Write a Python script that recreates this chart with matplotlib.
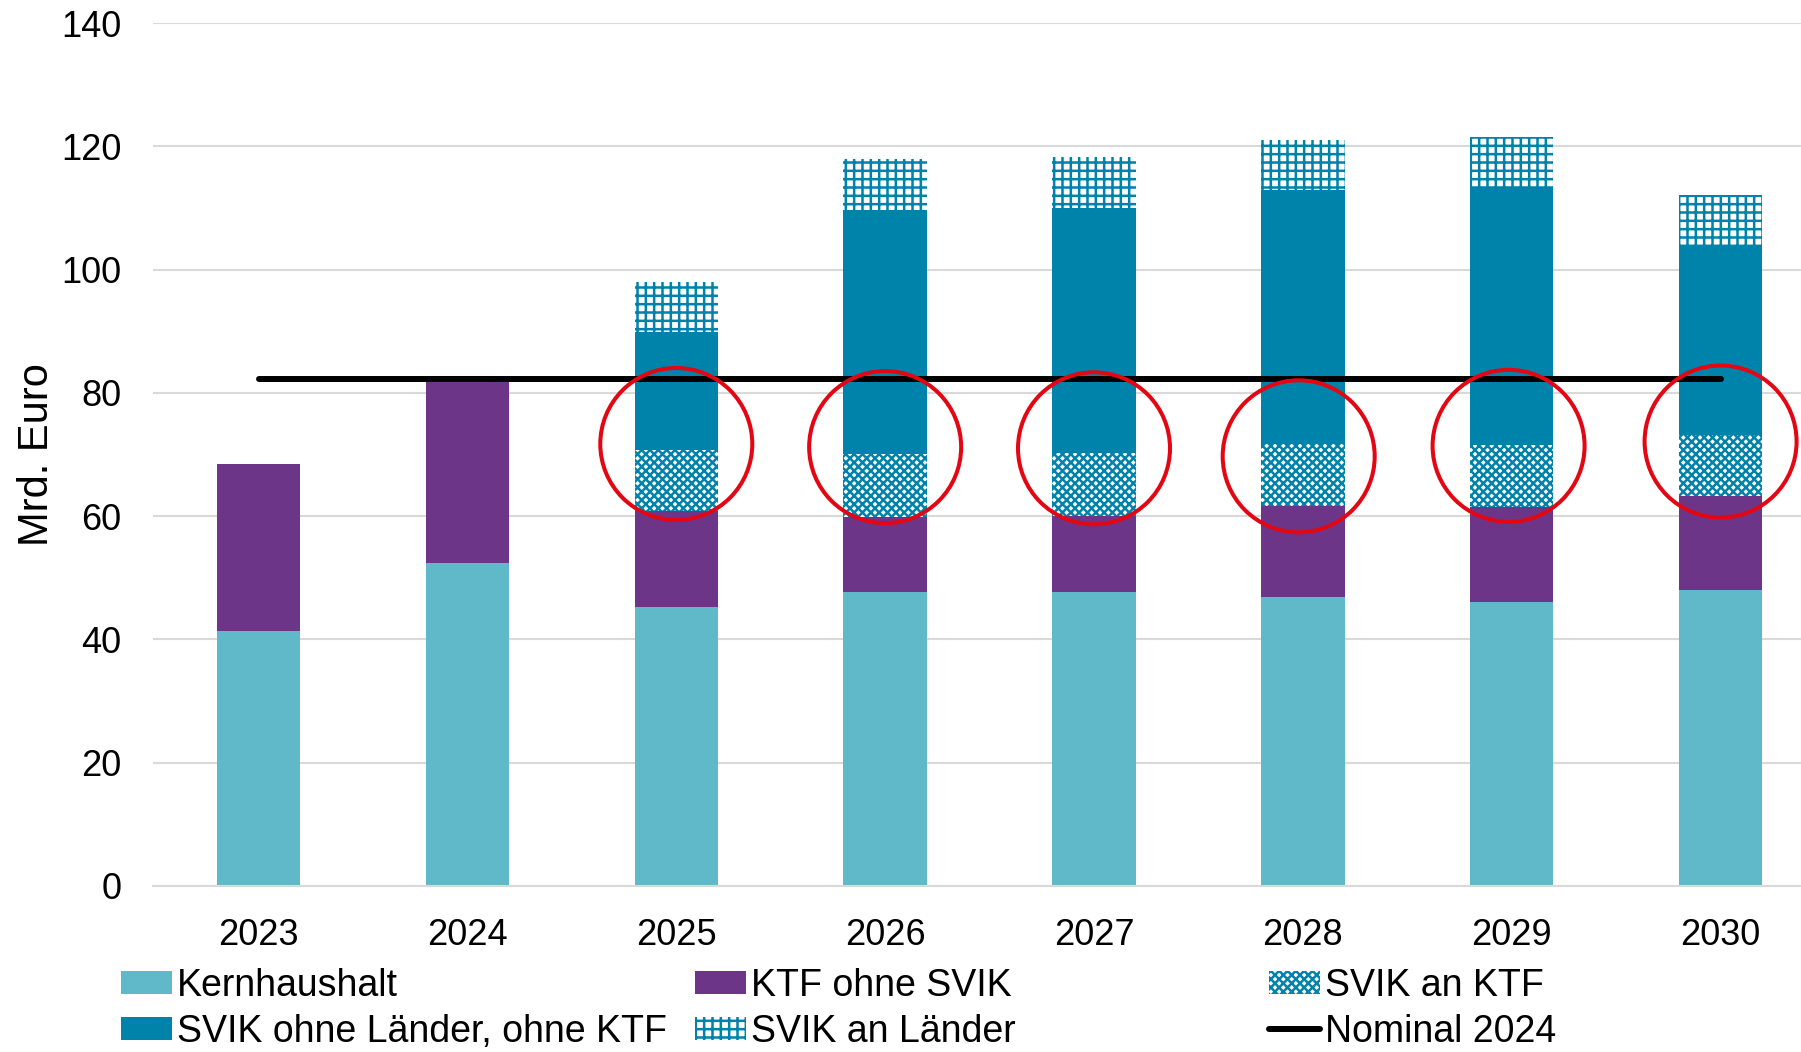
import matplotlib
matplotlib.use("Agg")
import matplotlib.pyplot as plt
from matplotlib.patches import Ellipse, Patch
from matplotlib.lines import Line2D
import numpy as np

plt.rcParams['font.family'] = ['Liberation Sans', 'DejaVu Sans']
plt.rcParams['hatch.linewidth'] = 1.8

years = ['2023', '2024', '2025', '2026', '2027', '2028', '2029', '2030']
kernhaushalt = [41.3, 52.4, 45.2, 47.6, 47.6, 46.8, 46.1, 48.0]
ktf_ohne_svik = [27.1, 29.6, 15.6, 12.3, 12.4, 14.9, 15.4, 15.2]
svik_an_ktf = [0, 0, 10.0, 10.2, 10.3, 10.0, 10.1, 10.0]
svik_ohne_laender = [0, 0, 19.0, 39.6, 39.7, 41.3, 41.6, 30.7]
svik_an_laender = [0, 0, 8.2, 8.3, 8.2, 8.0, 8.4, 8.2]
nominal_2024 = 82.3

# red circles around "SVIK an KTF" (x position, y centre)
circle_x = [2, 3, 4, 4.98, 5.985, 7]
circle_y = [71.7, 71.2, 71.0, 69.7, 71.4, 72.1]

c_kern = '#5fb9c8'
c_ktf = '#6d3588'
c_svik = '#0083ab'

fig = plt.figure(figsize=(18.01, 10.52), dpi=100)
ax = fig.add_axes([0.085, 0.158, 0.915, 0.82])

x = np.arange(len(years))
w = 0.4
bottom = np.zeros(len(years))
ax.bar(x, kernhaushalt, w, bottom=bottom, color=c_kern, lw=0, zorder=2)
bottom += kernhaushalt
ax.bar(x, ktf_ohne_svik, w, bottom=bottom, color=c_ktf, lw=0, zorder=2)
bottom += ktf_ohne_svik
ax.bar(x, svik_an_ktf, w, bottom=bottom, color='white', edgecolor=c_svik,
       hatch='xxxx', lw=0, zorder=2)
bottom += svik_an_ktf
ax.bar(x, svik_ohne_laender, w, bottom=bottom, color=c_svik, lw=0, zorder=2)
bottom += svik_ohne_laender
ax.bar(x, svik_an_laender, w, bottom=bottom, color='white', edgecolor=c_svik,
       hatch='++', lw=0, zorder=2)

ax.plot([x[0], x[-1]], [nominal_2024, nominal_2024], color='black', lw=4.3,
        solid_capstyle='round', zorder=3)

ax.set_xlim(-0.505, 7.385)
ax.set_ylim(0, 140)
ax.set_yticks(range(0, 141, 20))
ax.set_xticks(x)
ax.set_xticklabels(years)
ax.tick_params(axis='both', length=0, labelsize=26)
ax.tick_params(axis='y', pad=23)
ax.tick_params(axis='x', pad=23)
ax.grid(axis='y', color='#d9d9d9', lw=1.5, zorder=0)
for s in ['top', 'right', 'left']:
    ax.spines[s].set_visible(False)
ax.spines['bottom'].set_color('#d9d9d9')
ax.spines['bottom'].set_linewidth(1.5)
ax.set_ylabel('Mrd. Euro', fontsize=30, labelpad=3)

# circle in pixel units -> data units
fig.canvas.draw()
bb = ax.get_window_extent()
px_x = bb.width / (7.385 + 0.505)
px_y = bb.height / 140
r = 76
for cx, cy in zip(circle_x, circle_y):
    ax.add_patch(Ellipse((cx, cy), 2 * r / px_x, 2 * r / px_y, fill=False,
                         edgecolor='#e30613', lw=2.9, zorder=4))

h_kern = Patch(facecolor=c_kern, lw=0)
h_ktf = Patch(facecolor=c_ktf, lw=0)
h_sktf = Patch(facecolor='white', edgecolor=c_svik, hatch='xxxx', lw=0)
h_sohne = Patch(facecolor=c_svik, lw=0)
h_sland = Patch(facecolor='white', edgecolor=c_svik, hatch='++', lw=0)
h_nom = Line2D([], [], color='black', lw=4.3, solid_capstyle='round')

cols = [([h_kern, h_sohne], ['Kernhaushalt', 'SVIK ohne Länder, ohne KTF'], 0.0672),
        ([h_ktf, h_sland], ['KTF ohne SVIK', 'SVIK an Länder'], 0.386),
        ([h_sktf, h_nom], ['SVIK an KTF', 'Nominal 2024'], 0.7047)]
for hs, ls, lx in cols:
    fig.legend(hs, ls, loc='upper left', bbox_to_anchor=(lx, 0.08),
               frameon=False, fontsize=27, borderpad=0, borderaxespad=0,
               handlelength=1.35, handleheight=0.55, handletextpad=0.15,
               labelspacing=0.26)

fig.savefig('out.png', dpi=100)
